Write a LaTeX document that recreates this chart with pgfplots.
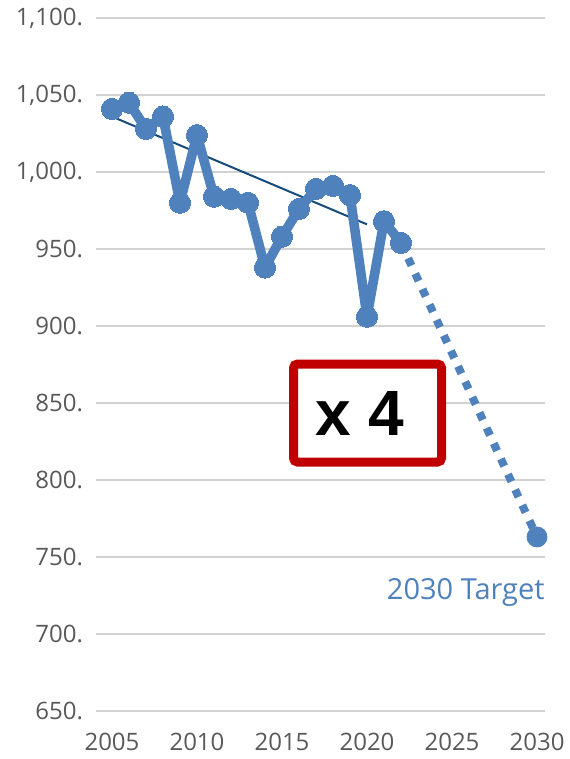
\documentclass[border=0pt]{standalone}
\usepackage{fontspec}
\setmainfont{Open Sans}
\newfontfamily\boxfont{Liberation Sans}
\usepackage{pgfplots}
\pgfplotsset{compat=1.18}

\definecolor{series}{RGB}{79,129,189}
\definecolor{trend}{RGB}{22,76,124}
\definecolor{boxred}{RGB}{192,0,0}
\definecolor{ticktext}{RGB}{89,89,89}

\begin{document}
\begin{tikzpicture}
\useasboundingbox (-48pt,-24pt) rectangle (236.5pt,355.5pt);
\begin{axis}[
  at={(0,0)}, anchor=south west,
  scale only axis,
  width=224.5pt, height=346.5pt,
  xmin=2004.06, xmax=2030.47,
  ymin=650, ymax=1100,
  xtick={2005,2010,...,2030},
  ytick={650,700,...,1100},
  axis line style={draw=none},
  major tick length=0pt,
  ymajorgrids, grid style={line width=0.8pt, gray!35},
  /pgf/number format/assume math mode=true,
  /pgf/number format/1000 sep={,},
  xticklabel={\pgfmathprintnumber[1000 sep={}]{\tick}},
  yticklabel={\pgfmathprintnumber{\tick}.},
  tick label style={font=\fontsize{12}{14}\selectfont, text=ticktext},
  xticklabel style={yshift=-7.5pt},
  yticklabel style={xshift=-3pt},
  clip=false,
]
% dotted path to target
\addplot[series, line width=4pt, line cap=butt, dash pattern=on 4pt off 4.5pt]
  coordinates {(2022,954) (2030,763)};
\addplot[series, only marks, mark=*, mark size=5pt] coordinates {(2030,763)};
% trend line
\addplot[trend, line width=1pt] coordinates {(2005,1036) (2020,966)};
% historical series
\addplot[series, line width=4.8pt, line join=round, mark=*, mark size=5.3pt,
  mark options={fill=series, draw=series, line width=0pt}]
  coordinates {
  (2005,1041) (2006,1045) (2007,1028) (2008,1036) (2009,980)
  (2010,1024) (2011,984) (2012,982.5) (2013,980) (2014,938)
  (2015,958) (2016,976) (2017,989) (2018,991) (2019,985)
  (2020,906) (2021,968) (2022,954)};
\node[draw=boxred, line width=4.5pt, fill=white, rounded corners=2pt,
  minimum width=74pt, minimum height=49pt, font=\boxfont\bfseries\fontsize{32}{36}\selectfont]
  at (axis cs:2020.03,843.5) {x 4\hspace*{8pt}};
\node[anchor=east, text=series, font=\fontsize{14.5}{17}\selectfont, inner sep=0pt]
  at (axis cs:2030.47,727) {2030 Target};
\end{axis}
\end{tikzpicture}
\end{document}
